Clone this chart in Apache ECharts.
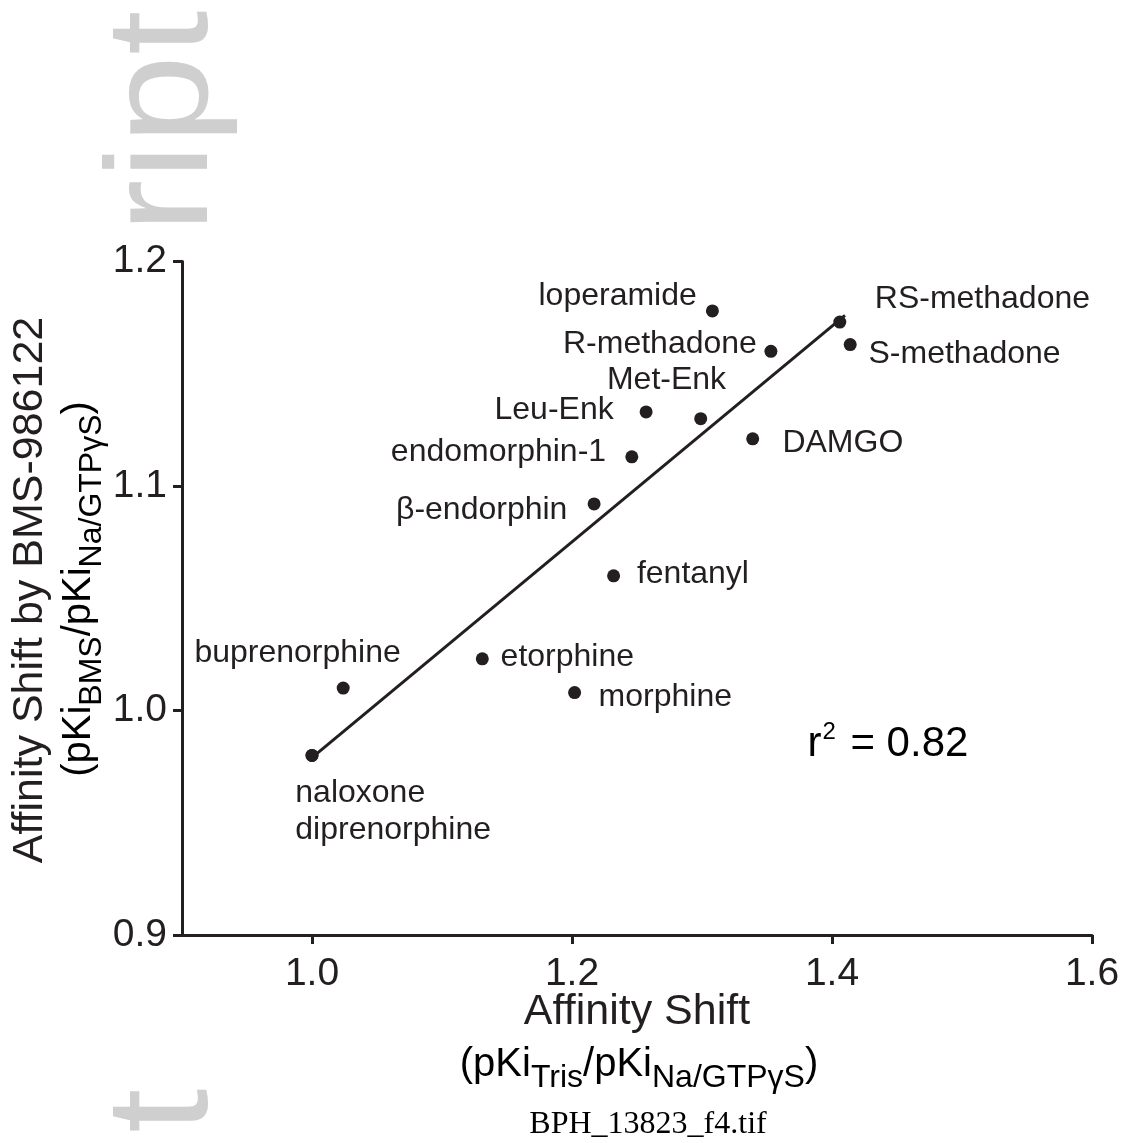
<!DOCTYPE html>
<html>
<head>
<meta charset="utf-8">
<script src="https://cdn.jsdelivr.net/npm/echarts@6/dist/echarts.min.js"></script>
<style>
  html, body { margin: 0; padding: 0; background: #ffffff; }
  #chart { width: 1126px; height: 1143px; }
</style>
</head>
<body>
<div id="chart"></div>
<script>
// ---------- data ----------
const compounds = ['naloxone', 'diprenorphine', 'buprenorphine', 'etorphine', 'morphine', 'fentanyl',
  'β-endorphin', 'endomorphin-1', 'Leu-Enk', 'Met-Enk', 'DAMGO', 'loperamide',
  'R-methadone', 'RS-methadone', 'S-methadone'];
const affinityShift = [1.000, 1.000, 1.024, 1.131, 1.202, 1.232, 1.217, 1.246, 1.257, 1.299, 1.339, 1.308, 1.353, 1.406, 1.414];
const bmsShift      = [0.980, 0.980, 1.010, 1.023, 1.008, 1.060, 1.092, 1.113, 1.133, 1.130, 1.121, 1.178, 1.160, 1.173, 1.163];
const fitX = [1.000, 1.410];
const fitY = [0.979, 1.176];
const xTicks = [1.0, 1.2, 1.4, 1.6];
const yTicks = [0.9, 1.0, 1.1, 1.2];
const rSquared = '0.82';

// ---------- styling / label layout ----------
const INK = '#231f20';
const FONT = '"Liberation Sans", Arial, Helvetica, sans-serif';
const labelLayout = {
  'naloxone':      { text: 'naloxone\ndiprenorphine', align: 'left', dx: -16.7, dy: 56, lineHeight: 36.7 },
  'diprenorphine': { show: false },
  'buprenorphine': { align: 'center', dx: -45.6, dy: -35 },
  'etorphine':     { align: 'left', dx: 18.3, dy: -1.7 },
  'morphine':      { align: 'left', dx: 24, dy: 4.3 },
  'fentanyl':      { align: 'left', dx: 23.3, dy: -1.7 },
  'β-endorphin':   { align: 'right', dx: -26.7, dy: 6.7 },
  'endomorphin-1': { align: 'right', dx: -25.7, dy: -4.7 },
  'Leu-Enk':       { align: 'right', dx: -32.4, dy: -1.3 },
  'Met-Enk':       { align: 'center', dx: -34.2, dy: -38 },
  'DAMGO':         { align: 'left', dx: 29.7, dy: 4.3 },
  'loperamide':    { align: 'right', dx: -15.6, dy: -14.4 },
  'R-methadone':   { align: 'right', dx: -14, dy: -7.4 },
  'RS-methadone':  { align: 'left', dx: 35, dy: -23.4 },
  'S-methadone':   { align: 'left', dx: 18.3, dy: 9.3 }
};

const scatterData = compounds.map((name, i) => {
  const L = labelLayout[name] || {};
  const label = {
    show: L.show !== false,
    position: 'inside',
    align: L.align || 'left',
    verticalAlign: 'middle',
    offset: [L.dx || 0, L.dy || 0],
    color: INK,
    opacity: 1,
    fontFamily: FONT,
    fontSize: 32,
    formatter: L.text ? L.text : '{b}'
  };
  if (L.lineHeight) label.lineHeight = L.lineHeight;
  return { name: name, value: [affinityShift[i], bmsShift[i]], label: label };
});

const subRich = {
  m: { fontFamily: FONT, fontSize: 40, lineHeight: 58, color: INK, verticalAlign: 'middle' },
  s: { fontFamily: FONT, fontSize: 32, lineHeight: 31, color: INK, verticalAlign: 'bottom' }
};

const chart = echarts.init(document.getElementById('chart'), null, { renderer: 'canvas' });

const option = {
  animation: false,
  backgroundColor: '#ffffff',
  grid: { left: 182, right: 34, top: 261.5, bottom: 208, containLabel: false },
  xAxis: {
    type: 'value',
    min: 0.9, max: 1.6,
    splitLine: { show: false },
    axisLine: { show: true, onZero: false, lineStyle: { color: INK, width: 3 } },
    axisTick: { show: true, customValues: xTicks, length: 9, lineStyle: { color: INK, width: 3 } },
    axisLabel: {
      customValues: xTicks, margin: 20, color: INK, fontFamily: FONT, fontSize: 39,
      formatter: v => Number(v).toFixed(1)
    }
  },
  yAxis: {
    type: 'value',
    min: 0.9, max: 1.2,
    splitLine: { show: false },
    axisLine: { show: true, onZero: false, lineStyle: { color: INK, width: 3 } },
    axisTick: { show: true, customValues: yTicks, length: 9, lineStyle: { color: INK, width: 3 } },
    axisLabel: {
      customValues: yTicks, margin: 15, color: INK, fontFamily: FONT, fontSize: 39,
      formatter: v => Number(v).toFixed(1)
    }
  },
  series: [
    {
      type: 'line',
      data: fitX.map((x, i) => [x, fitY[i]]),
      showSymbol: false,
      symbol: 'none',
      lineStyle: { color: INK, width: 3 },
      silent: true,
      z: 2
    },
    {
      type: 'scatter',
      data: scatterData,
      symbol: 'circle',
      symbolSize: 13,
      itemStyle: { color: INK, opacity: 1 },
      emphasis: { disabled: true },
      z: 3
    }
  ],
  graphic: [
    // faint watermark fragments
    { type: 'text', x: 167.4, y: 232.7, rotation: Math.PI / 2, scaleX: 1.11, z: -10,
      style: { text: 'ript', fill: '#cfcfcf', fontFamily: FONT, fontSize: 144, align: 'left', verticalAlign: 'middle' } },
    { type: 'text', x: 167.4, y: 1133, rotation: Math.PI / 2, scaleX: 1.11, z: -10,
      style: { text: 't', fill: '#cfcfcf', fontFamily: FONT, fontSize: 144, align: 'left', verticalAlign: 'middle' } },
    // x axis title
    { type: 'text', x: 637, y: 1012.5,
      style: { text: 'Affinity Shift', fill: INK, fontFamily: FONT, fontSize: 43, align: 'center', verticalAlign: 'middle' } },
    { type: 'text', x: 639, y: 1065,
      style: { text: '{m|(pKi}{s|Tris}{m|/pKi}{s|Na/GTPγS}{m|)}', rich: subRich, align: 'center', verticalAlign: 'middle' } },
    // y axis title
    { type: 'text', x: 30, y: 590, rotation: Math.PI / 2,
      style: { text: 'Affinity Shift by BMS-986122', fill: INK, fontFamily: FONT, fontSize: 43, align: 'center', verticalAlign: 'middle' } },
    { type: 'text', x: 79, y: 589, rotation: Math.PI / 2,
      style: { text: '{m|(pKi}{s|BMS}{m|/pKi}{s|Na/GTPγS}{m|)}', rich: subRich, align: 'center', verticalAlign: 'middle' } },
    // r squared annotation
    { type: 'text', x: 807.4, y: 744.5,
      style: {
        text: '{a|r}{b|2}{a| = ' + rSquared + '}',
        align: 'left', verticalAlign: 'middle',
        rich: {
          a: { fontFamily: FONT, fontSize: 42, lineHeight: 48, color: INK },
          b: { fontFamily: FONT, fontSize: 24, lineHeight: 20, color: INK, verticalAlign: 'top', padding: [0, 3, 0, 1] }
        }
      } },
    // file caption
    { type: 'text', x: 648, y: 1124.2,
      style: { text: 'BPH_13823_f4.tif', fill: '#000000', fontFamily: '"Liberation Serif", "Times New Roman", serif', fontSize: 32, align: 'center', verticalAlign: 'middle' } }
  ]
};

chart.setOption(option);
</script>
</body>
</html>
